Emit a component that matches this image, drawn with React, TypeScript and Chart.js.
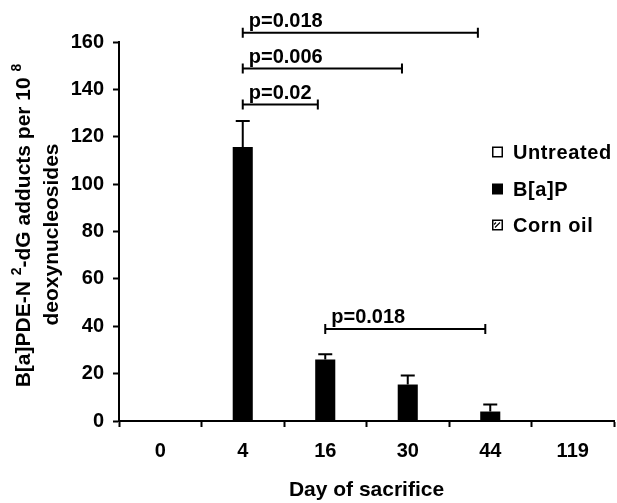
import React, { useEffect, useRef } from 'react';
import { Chart, registerables } from 'chart.js';

Chart.register(...registerables);

// ---- data ----
const days = ['0', '4', '16', '30', '44', '119'];
const seriesNames = ['Untreated', 'B[a]P', 'Corn oil'];
const untreatedValues = [0, 0, 0, 0, 0, 0];
const bapValues = [0, 115.7, 26.0, 15.4, 4.0, 0];
const bapErrors = [0, 11.0, 2.2, 3.8, 3.0, 0];
const cornOilValues = [0, 0, 0, 0, 0, 0];
const yMin = 0;
const yMax = 160;
const yStep = 20;
// significance brackets (category index from/to, y level in data units)
const bracketFrom = [1, 1, 1, 2];
const bracketTo = [3.85, 2.93, 1.91, 3.94];
const bracketLevel = [163.9, 148.8, 133.6, 38.8];
const bracketLabels = ['p=0.018', 'p=0.006', 'p=0.02', 'p=0.018'];
const yTitleRuns = ['B[a]PDE-N ', '2', '-dG adducts per 10 ', '8'];
const yTitleSecond = 'deoxynucleosides';
const xTitle = 'Day of sacrifice';

const FONT = '"Liberation Sans", Arial, Helvetica, sans-serif';

function makeHatch(): CanvasPattern | string {
  const c = document.createElement('canvas');
  c.width = 6;
  c.height = 6;
  const g = c.getContext('2d');
  if (!g) return '#fff';
  g.fillStyle = '#fff';
  g.fillRect(0, 0, 6, 6);
  g.strokeStyle = '#000';
  g.lineWidth = 1;
  g.beginPath();
  g.moveTo(0, 6);
  g.lineTo(6, 0);
  g.stroke();
  return g.createPattern(c, 'repeat') || '#fff';
}

const errorBarPlugin = {
  id: 'errorBars',
  afterDatasetsDraw(chart: any) {
    const ctx = chart.ctx;
    const ys = chart.scales.y;
    const meta = chart.getDatasetMeta(1);
    ctx.save();
    ctx.strokeStyle = '#000';
    ctx.lineWidth = 2;
    bapErrors.forEach((err, i) => {
      if (!err) return;
      const bar = meta.data[i];
      const x = bar.x;
      const yTop = ys.getPixelForValue(bapValues[i] + err);
      ctx.beginPath();
      ctx.moveTo(x, bar.y);
      ctx.lineTo(x, yTop);
      ctx.moveTo(x - 7, yTop);
      ctx.lineTo(x + 7, yTop);
      ctx.stroke();
    });
    ctx.restore();
  },
};

const bracketPlugin = {
  id: 'brackets',
  afterDatasetsDraw(chart: any) {
    const ctx = chart.ctx;
    const xs = chart.scales.x;
    const ys = chart.scales.y;
    ctx.save();
    ctx.strokeStyle = '#000';
    ctx.fillStyle = '#000';
    ctx.lineWidth = 2;
    ctx.font = `bold 20px ${FONT}`;
    ctx.textAlign = 'left';
    ctx.textBaseline = 'alphabetic';
    bracketLabels.forEach((label, i) => {
      const x1 = xs.getPixelForValue(bracketFrom[i]);
      const x2 = xs.getPixelForValue(bracketTo[i]);
      const y = ys.getPixelForValue(bracketLevel[i]);
      ctx.beginPath();
      ctx.moveTo(x1, y);
      ctx.lineTo(x2, y);
      ctx.moveTo(x1, y - 5);
      ctx.lineTo(x1, y + 5);
      ctx.moveTo(x2, y - 5);
      ctx.lineTo(x2, y + 5);
      ctx.stroke();
      ctx.fillText(label, x1 + 6, y - 6);
    });
    ctx.restore();
  },
};

const yTitlePlugin = {
  id: 'yTitleRich',
  afterDraw(chart: any) {
    const ctx = chart.ctx;
    const ca = chart.chartArea;
    const mid = (ca.top + ca.bottom) / 2;
    const big = `bold 21px ${FONT}`;
    const small = `bold 14px ${FONT}`;
    const runs = yTitleRuns.map((t, i) => ({ t, f: i % 2 === 1 ? small : big, dy: i % 2 === 1 ? -7 : 0 }));
    ctx.save();
    ctx.fillStyle = '#000';
    ctx.textBaseline = 'middle';
    ctx.textAlign = 'left';
    let total = 0;
    const widths = runs.map((r) => {
      ctx.font = r.f;
      const w = ctx.measureText(r.t).width;
      total += w;
      return w;
    });
    ctx.translate(ca.left - 95, mid - 6);
    ctx.rotate(-Math.PI / 2);
    let x = -total / 2;
    runs.forEach((r, i) => {
      ctx.font = r.f;
      ctx.fillText(r.t, x, r.dy);
      x += widths[i];
    });
    ctx.restore();

    ctx.save();
    ctx.fillStyle = '#000';
    ctx.textBaseline = 'middle';
    ctx.textAlign = 'center';
    ctx.font = big;
    ctx.translate(ca.left - 66.5, mid + 3);
    ctx.rotate(-Math.PI / 2);
    ctx.fillText(yTitleSecond, 0, 0);
    ctx.restore();
  },
};

const legendPlugin = {
  id: 'customLegend',
  afterDraw(chart: any) {
    const ctx = chart.ctx;
    const boxX = 492;
    const textX = 513;
    const rows = [152, 189, 225];
    const size = 11;
    ctx.save();
    ctx.font = `bold 20px ${FONT}`;
    (ctx as any).letterSpacing = '0.6px';
    ctx.textAlign = 'left';
    ctx.textBaseline = 'middle';
    seriesNames.forEach((name, i) => {
      const y = rows[i];
      const top = y - size / 2;
      ctx.lineWidth = 1.5;
      ctx.strokeStyle = '#000';
      if (i === 1) {
        ctx.fillStyle = '#000';
        ctx.fillRect(boxX, top, size, size);
      } else {
        ctx.fillStyle = '#fff';
        ctx.fillRect(boxX, top, size, size);
        ctx.strokeRect(boxX + 0.75, top + 0.75, size - 1.5, size - 1.5);
        if (i === 2) {
          ctx.lineWidth = 1.2;
          ctx.beginPath();
          ctx.moveTo(boxX + 3, top + size - 3);
          ctx.lineTo(boxX + size - 3, top + 3);
          ctx.moveTo(boxX + 2, top + 5);
          ctx.lineTo(boxX + 4, top + 3);
          ctx.stroke();
        }
      }
      ctx.fillStyle = '#000';
      ctx.fillText(name, textX, y + 1);
    });
    ctx.restore();
  },
};

export default function App() {
  const ref = useRef<HTMLCanvasElement | null>(null);

  useEffect(() => {
    const canvas = ref.current;
    if (!canvas) return;
    const tickFont = { family: FONT, size: 20, weight: 'bold' as const };
    const chart = new Chart(canvas, {
      type: 'bar',
      data: {
        labels: days,
        datasets: [
          { label: seriesNames[0], data: untreatedValues, backgroundColor: '#fff', borderWidth: 0 },
          { label: seriesNames[1], data: bapValues, backgroundColor: '#000', borderWidth: 0 },
          { label: seriesNames[2], data: cornOilValues, backgroundColor: makeHatch() as any, borderWidth: 0 },
        ],
      },
      options: {
        responsive: false,
        animation: false,
        layout: { padding: { top: 42, right: 3, left: 0, bottom: 0 } },
        datasets: { bar: { categoryPercentage: 0.73, barPercentage: 1 } },
        plugins: {
          legend: { display: false },
          tooltip: { enabled: false },
          title: { display: false },
        },
        scales: {
          x: {
            grid: {
              offset: true,
              drawOnChartArea: false,
              drawTicks: true,
              tickLength: 6,
              tickWidth: 2,
              tickColor: '#000',
            },
            border: { display: true, color: '#000', width: 2 },
            ticks: { color: '#000', font: tickFont, padding: 12 },
            title: {
              display: true,
              text: xTitle,
              color: '#000',
              font: { family: FONT, size: 21, weight: 'bold' },
              padding: { top: 0, bottom: 0 },
            },
            afterFit: (s: any) => {
              s.height = 82;
            },
          },
          y: {
            min: yMin,
            max: yMax,
            ticks: { stepSize: yStep, color: '#000', font: tickFont, padding: 9 },
            grid: {
              drawOnChartArea: false,
              drawTicks: true,
              tickLength: 6,
              tickWidth: 2,
              tickColor: '#000',
            },
            border: { display: true, color: '#000', width: 2 },
            afterFit: (s: any) => {
              s.width = 119;
            },
          },
        },
      },
      plugins: [errorBarPlugin, bracketPlugin, yTitlePlugin, legendPlugin],
    });
    return () => chart.destroy();
  }, []);

  return (
    <div style={{ position: 'fixed', left: 0, top: 0, width: 617, height: 503, background: '#fff' }}>
      <canvas ref={ref} width={617} height={503} style={{ width: 617, height: 503, display: 'block' }} />
    </div>
  );
}
